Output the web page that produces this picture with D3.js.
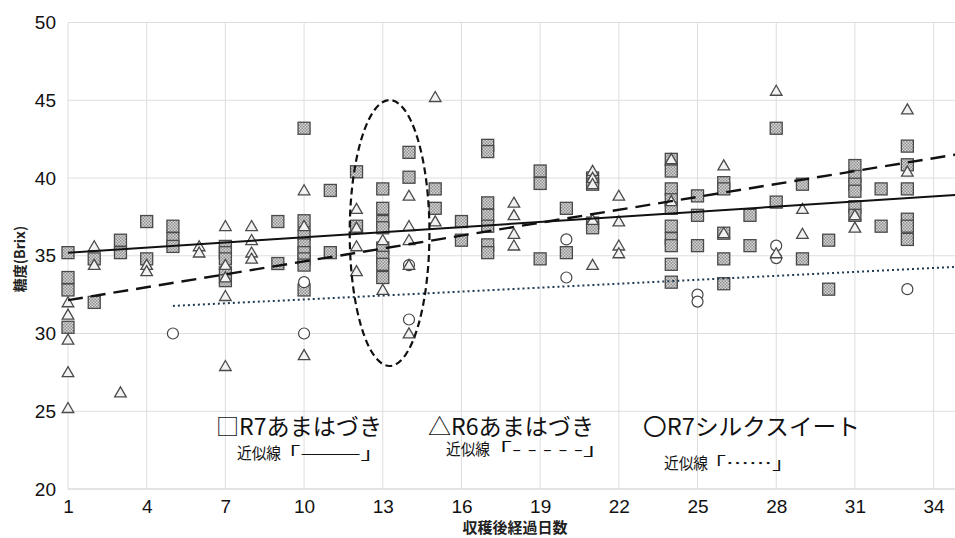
<!DOCTYPE html>
<html>
<head>
<meta charset="utf-8">
<script src="https://cdn.jsdelivr.net/npm/d3@7"></script>
<style>
  body { margin: 0; background: #fff; }
  svg { display: block; }
</style>
</head>
<body>
<script>
// □ R7あまはづき (day, Brix)
var r7Ama = [
  [1,35.2],[1,33.6],[1,32.8],[1,30.4],
  [2,34.8],[2,32.0],
  [3,36.0],[3,35.2],
  [4,37.2],[4,34.8],
  [5,36.9],[5,36.1],[5,35.6],
  [7,35.6],[7,35.2],[7,34.8],[7,33.9],[7,33.4],
  [9,37.2],[9,34.5],
  [10,43.2],[10,37.25],[10,36.4],[10,35.7],[10,35.2],[10,34.8],[10,34.4],[10,32.8],
  [11,39.2],[11,35.2],
  [12,40.4],[12,36.9],
  [13,39.3],[13,38.05],[13,37.2],[13,36.8],[13,35.5],[13,34.9],[13,34.45],[13,33.6],
  [14,41.65],[14,40.05],
  [15,39.3],[15,38.05],
  [16,37.2],[16,36.0],
  [17,42.1],[17,41.7],[17,38.4],[17,37.6],[17,36.9],[17,35.7],[17,35.2],
  [19,40.45],[19,39.65],[19,34.8],
  [20,38.05],[20,35.2],
  [21,40.0],[21,39.6],[21,37.1],[21,36.8],
  [24,41.2],[24,40.45],[24,39.3],[24,38.6],[24,38.05],[24,36.9],[24,36.1],[24,35.65],[24,34.45],[24,33.3],
  [25,38.85],[25,37.6],[25,35.65],
  [26,39.7],[26,39.3],[26,36.45],[26,34.8],[26,33.2],
  [27,37.6],[27,35.65],
  [28,43.2],[28,38.45],
  [29,39.6],[29,34.8],
  [30,36.0],[30,32.85],
  [31,40.8],[31,40.1],[31,39.6],[31,39.15],[31,38.15],[31,37.6],
  [32,39.3],[32,36.9],
  [33,42.05],[33,40.85],[33,39.3],[33,37.35],[33,36.9],[33,36.05]
];

// △ R6あまはづき
var r6Ama = [
  [1,32.0],[1,31.2],[1,29.6],[1,27.5],[1,25.2],
  [2,35.6],[2,34.4],
  [3,26.2],
  [4,34.4],[4,34.0],
  [6,35.6],[6,35.2],
  [7,36.9],[7,34.4],[7,33.6],[7,32.4],[7,27.9],
  [8,36.9],[8,36.0],[8,35.2],[8,34.8],
  [10,39.2],[10,36.9],[10,28.6],
  [12,38.0],[12,36.8],[12,35.6],[12,34.0],
  [13,36.0],[13,32.8],
  [14,38.85],[14,36.9],[14,36.0],[14,34.4],[14,30.0],
  [15,45.2],[15,37.2],
  [18,38.4],[18,37.6],[18,36.4],[18,35.65],
  [21,40.45],[21,40.0],[21,39.6],[21,37.3],[21,34.4],
  [22,38.85],[22,37.2],[22,35.65],[22,35.15],
  [24,41.2],[24,38.5],
  [26,40.8],[26,36.45],
  [28,45.6],[28,35.15],
  [29,38.0],[29,36.4],
  [31,37.6],[31,36.8],
  [33,44.4],[33,40.4]
];

// 〇 R7シルクスイート
var r7Silk = [
  [5,30.0],
  [10,33.3],[10,30.0],
  [14,34.4],[14,30.9],
  [20,36.05],[20,33.6],
  [25,32.5],[25,32.05],
  [28,35.65],[28,34.85],
  [33,32.85]
];

// trend lines: brix = a + b * day
var trendA = [35.09, 31.87, 31.35];
var trendB = [0.1095, 0.2766, 0.0842];
var trendFrom = [1, 1, 5];

var xTicks = [1, 4, 7, 10, 13, 16, 19, 22, 25, 28, 31, 34];
var yTicks = [20, 25, 30, 35, 40, 45, 50];

(function() {
  var w = 955, h = 538;
  var padL = 68, padT = 22.5, padB = 489;

  var svg = d3.select("body").append("svg")
      .attr("width", w)
      .attr("height", h);

  var defs = svg.append("defs");
  var pat = defs.append("pattern")
      .attr("id", "dots")
      .attr("patternUnits", "userSpaceOnUse")
      .attr("width", 3)
      .attr("height", 3);
  pat.append("rect").attr("width", 3).attr("height", 3).attr("fill", "#d6d6d6");
  pat.append("rect").attr("width", 1.5).attr("height", 1.5).attr("fill", "#909090");
  pat.append("rect").attr("x", 1.5).attr("y", 1.5).attr("width", 1.5).attr("height", 1.5).attr("fill", "#909090");

  defs.append("clipPath").attr("id", "plot")
    .append("rect").attr("x", padL).attr("y", 0).attr("width", w - padL).attr("height", padB);

  var xScale = d3.scaleLinear().domain([1, 35]).range([padL, padL + 34 * 26.23]);
  var yScale = d3.scaleLinear().domain([20, 50]).range([padB, padT]);

  // grid
  var grid = svg.append("g");
  grid.selectAll(".hg").data(yTicks).enter().append("line")
      .attr("x1", padL).attr("x2", w)
      .attr("y1", d => yScale(d)).attr("y2", d => yScale(d))
      .attr("stroke", d => d == 20 ? "#c8c8c8" : "#dedede")
      .attr("stroke-width", 1);
  grid.selectAll(".vg").data(xTicks).enter().append("line")
      .attr("x1", d => xScale(d)).attr("x2", d => xScale(d))
      .attr("y1", padT).attr("y2", padB)
      .attr("stroke", "#dedede")
      .attr("stroke-width", 1);

  // axes (labels only)
  var yAxis = d3.axisLeft(yScale).tickValues(yTicks).tickSize(0).tickPadding(12);
  var xAxis = d3.axisBottom(xScale).tickValues(xTicks).tickSize(0).tickPadding(11);

  var ya = svg.append("g").attr("transform", "translate(" + padL + ",0)").call(yAxis);
  var xa = svg.append("g").attr("transform", "translate(0," + padB + ")").call(xAxis);
  [ya, xa].forEach(function(a) {
    a.select(".domain").remove();
    a.selectAll("text")
      .attr("font-family", "'Liberation Sans', Arial, sans-serif")
      .attr("font-size", 19)
      .attr("fill", "#111");
  });

  svg.append("text")
      .attr("transform", "translate(19,259) rotate(-90)")
      .attr("text-anchor", "middle")
      .attr("dominant-baseline", "central")
      .attr("font-family", "'Noto Sans CJK JP', sans-serif")
      .attr("font-weight", "bold")
      .attr("font-size", 14)
      .attr("fill", "#222")
      .text("糖度(Brix)");

  svg.append("text")
      .attr("x", 515).attr("y", 526)
      .attr("text-anchor", "middle")
      .attr("dominant-baseline", "central")
      .attr("font-family", "'Noto Sans CJK JP', sans-serif")
      .attr("font-weight", "bold")
      .attr("font-size", 15)
      .attr("fill", "#222")
      .text("収穫後経過日数");

  // markers
  var marks = svg.append("g");
  marks.selectAll(".sq").data(r7Ama).enter().append("rect")
      .attr("x", d => xScale(d[0]) - 6)
      .attr("y", d => yScale(d[1]) - 6)
      .attr("width", 12).attr("height", 12)
      .attr("fill", "url(#dots)")
      .attr("stroke", "#4a4a4a")
      .attr("stroke-width", 1.3);

  marks.selectAll(".ci").data(r7Silk).enter().append("circle")
      .attr("cx", d => xScale(d[0]))
      .attr("cy", d => yScale(d[1]))
      .attr("r", 5.5)
      .attr("fill", "#fff")
      .attr("stroke", "#444")
      .attr("stroke-width", 1.2);

  var tri = d3.symbol().type(d3.symbolTriangle).size(58);
  marks.selectAll(".tr").data(r6Ama).enter().append("path")
      .attr("d", tri)
      .attr("transform", d => "translate(" + xScale(d[0]) + "," + (yScale(d[1]) + 1) + ")")
      .attr("fill", "#f2f2f2")
      .attr("stroke", "#4a4a4a")
      .attr("stroke-width", 1.3);

  // trend lines
  var trendStyle = [
    {color: "#111", width: 2, dash: null},
    {color: "#111", width: 2.4, dash: "15,8"},
    {color: "#1d3a52", width: 2, dash: "2,3"}
  ];
  var lines = svg.append("g").attr("clip-path", "url(#plot)");
  trendA.forEach(function(a, i) {
    var pts = [trendFrom[i], 35].map(d => [d, a + trendB[i] * d]);
    lines.append("path")
        .attr("d", d3.line().x(d => xScale(d[0])).y(d => yScale(d[1]))(pts))
        .attr("fill", "none")
        .attr("stroke", trendStyle[i].color)
        .attr("stroke-width", trendStyle[i].width)
        .attr("stroke-dasharray", trendStyle[i].dash);
  });

  // dashed ellipse around day 13
  var ellDay = 13.26, ellBrix = 36.46, ellRxDays = 1.52, ellRyBrix = 8.55;
  svg.append("ellipse")
      .attr("cx", xScale(ellDay))
      .attr("cy", yScale(ellBrix))
      .attr("rx", xScale(1 + ellRxDays) - xScale(1))
      .attr("ry", yScale(20) - yScale(20 + ellRyBrix))
      .attr("fill", "none")
      .attr("stroke", "#111")
      .attr("stroke-width", 2.2)
      .attr("stroke-dasharray", "7,4");

  // legend texts
  var legendText = [
    {t: "□R7あまはづき", x: 216, y: 425, s: 23, len: 166},
    {t: "△R6あまはづき", x: 428, y: 425, s: 23, len: 166},
    {t: "〇R7シルクスイート", x: 643, y: 425, s: 23, len: 217},
    {t: "近似線", x: 237, y: 452, s: 16, len: 44},
    {t: "「———」", x: 276, y: 452, s: 16, len: 109},
    {t: "近似線", x: 446, y: 448, s: 16, len: 44},
    {t: "「- - - - -」", x: 485, y: 448, s: 16, len: 125},
    {t: "近似線", x: 664, y: 462, s: 16, len: 44},
    {t: "「……」", x: 703, y: 462, s: 16, len: 92}
  ];
  svg.selectAll(".lg").data(legendText).enter().append("text")
      .attr("x", d => d.x).attr("y", d => d.y)
      .attr("dominant-baseline", "central")
      .attr("font-family", "'Noto Sans CJK JP', sans-serif")
      .attr("font-size", d => d.s)
      .attr("textLength", d => d.len)
      .attr("lengthAdjust", "spacingAndGlyphs")
      .attr("fill", "#111")
      .text(d => d.t);
})();
</script>
</body>
</html>
